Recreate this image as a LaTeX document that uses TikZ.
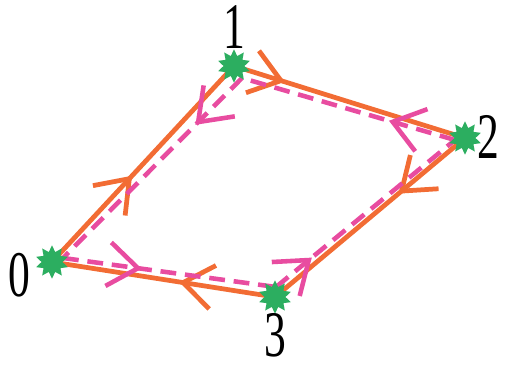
\documentclass[tikz,border=0pt]{standalone}
\usepackage{fontspec}
\setmainfont{Liberation Serif}
\usepackage{graphicx}
\definecolor{loopred}{RGB}{242, 108, 52}
\definecolor{looppink}{RGB}{232, 76, 160}
\definecolor{sitegreen}{RGB}{44, 174, 96}
\usepackage{tikz}
\usetikzlibrary{shapes.geometric, arrows.meta, decorations.markings}

\newcommand{\sitelabel}[1]{\scalebox{0.67}[1]{\fontsize{37}{40}\selectfont #1}}

\begin{document}
\begin{tikzpicture}[x=0.2mm, y=-0.2mm,
    site/.style={star, star points=10, star point ratio=1.6, fill=sitegreen,
                 inner sep=0pt, minimum size=19pt},
    fwd/.style={loopred, line width=2.7pt},
    bwd/.style={looppink, line width=2.6pt, dash pattern=on 9pt off 5pt},
    barbat/.style={postaction={decorate, decoration={markings,
        mark=at position #1 with {\arrow[solid]{Straight Barb[length=17pt, width=25pt]}}}}}]
    \useasboundingbox (0, 0) rectangle (514, 373);

    % Sites
    \coordinate (c0) at (52, 262);
    \coordinate (c1) at (234, 66);
    \coordinate (c2) at (465, 138);
    \coordinate (c3) at (275, 297);

    % Inner (dashed) loop corners
    \coordinate (p0) at (63, 258);
    \coordinate (p1) at (242, 78);
    \coordinate (p2) at (455, 140);
    \coordinate (p3) at (276, 287);

    % Solid loop 0 -> 1 -> 2 -> 3 -> 0
    \draw[fwd, barbat=0.44] (c0) -- (c1);
    \draw[fwd, barbat=0.22] (c1) -- (c2);
    \draw[fwd, barbat=0.35] (c2) -- (c3);
    \draw[fwd, barbat=0.43] (c3) -- (c0);

    % Dashed loop 0 -> 3 -> 2 -> 1 -> 0
    \draw[bwd, barbat=0.37] (p0) -- (p3);
    \draw[bwd, barbat=0.20] (p3) -- (p2);
    \draw[bwd, barbat=0.31] (p2) -- (p1);
    \draw[bwd, barbat=0.26] (p1) -- (p0);

    % Stars and labels
    \node[site] (s0) at (c0) {};
    \node[site] (s1) at (c1) {};
    \node[site] (s2) at (c2) {};
    \node[site] (s3) at (c3) {};
    \node[inner sep=0pt] (l0) at (19, 275) {\sitelabel{0}};
    \node[inner sep=0pt] (l1) at (234, 27) {\sitelabel{1}};
    \node[inner sep=0pt] (l2) at (488, 137) {\sitelabel{2}};
    \node[inner sep=0pt] (l3) at (275, 335) {\sitelabel{3}};
\end{tikzpicture}
\end{document}
